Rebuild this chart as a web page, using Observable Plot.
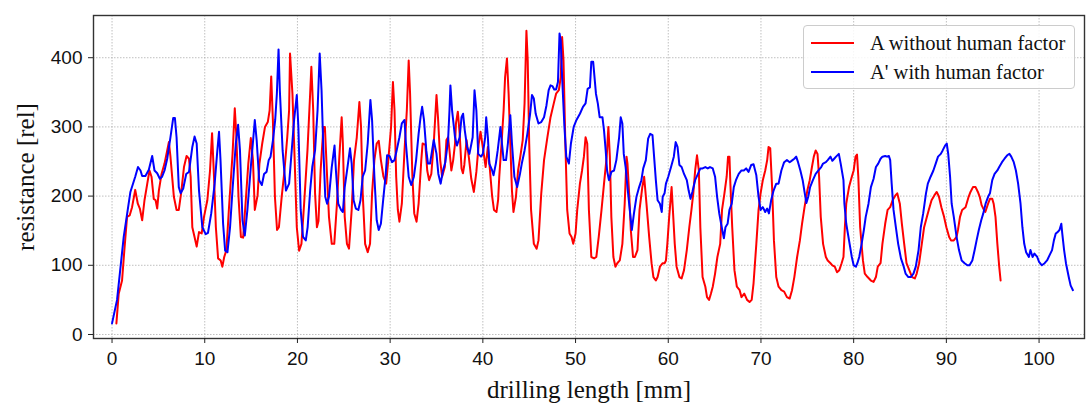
<!DOCTYPE html>
<html>
<head>
<meta charset="utf-8">
<script src="https://cdn.jsdelivr.net/npm/d3@7"></script>
<script src="https://cdn.jsdelivr.net/npm/@observablehq/plot@0.6"></script>
<style>
  html, body { margin: 0; padding: 0; background: #fff; }
  #wrap { position: relative; width: 1087px; height: 403px; }
  #legend { position: absolute; left: 803px; top: 25px; width: 272px; height: 64px;
    border: 1px solid #cccccc; border-radius: 4px; background: rgba(255,255,255,0.85); box-sizing: border-box; }
  .lg-line { position: absolute; left: 7px; width: 43px; height: 2px; }
  .lg-text { position: absolute; left: 66px; font-family: "Liberation Serif", "Times New Roman", serif;
    font-size: 20.5px; line-height: 20.5px; color: #111; white-space: nowrap; }
</style>
</head>
<body>
<div id="wrap"></div>
<script>
// Series A: without human factor (red)
const aMm = [0.47,0.72,1.08,1.33,1.62,1.9,2.16,2.5,2.78,3.0,3.25,3.5,3.8,4.04,4.26,4.5,4.7,4.87,5.05,5.34,5.66,5.95,6.13,6.3,6.67,6.96,7.2,7.47,7.76,8.04,8.3,8.48,8.66,8.9,9.13,9.38,9.67,9.92,10.28,10.57,10.79,11.0,11.2,11.44,11.72,11.9,12.1,12.34,12.6,13.0,13.24,13.4,13.64,13.9,14.14,14.4,14.7,14.97,15.2,15.4,15.7,15.9,16.2,16.5,16.8,17.0,17.17,17.35,17.57,17.8,18.0,18.3,18.6,18.9,19.1,19.2,19.46,19.7,19.93,20.18,20.43,20.72,21.08,21.37,21.5,21.7,21.9,22.1,22.27,22.5,22.8,22.96,23.2,23.4,23.7,23.97,24.26,24.5,24.77,24.9,25.1,25.34,25.56,25.85,26.1,26.4,26.68,26.86,27.04,27.3,27.58,27.83,28.05,28.3,28.55,28.77,29.0,29.28,29.57,29.8,30.1,30.3,30.47,30.65,30.83,31.0,31.26,31.55,31.8,32.0,32.15,32.4,32.6,32.85,33.07,33.36,33.5,33.8,34.0,34.2,34.44,34.7,35.0,35.16,35.4,35.6,35.9,36.07,36.25,36.4,36.6,36.8,37.0,37.1,37.3,37.5,37.7,37.85,38.0,38.24,38.5,38.75,39.03,39.3,39.55,39.75,40.0,40.3,40.54,40.75,41.0,41.2,41.47,41.65,41.77,42.06,42.24,42.4,42.6,42.78,42.96,43.14,43.3,43.57,43.8,44.04,44.3,44.5,44.7,44.84,45.0,45.2,45.5,45.8,46.0,46.3,46.6,46.96,47.3,47.65,47.9,48.2,48.4,48.55,48.7,48.9,49.1,49.35,49.57,49.75,50.0,50.18,50.47,50.7,50.9,51.08,51.26,51.44,51.7,52.0,52.24,52.5,52.8,53.07,53.36,53.54,53.7,53.86,54.08,54.3,54.5,54.77,55.05,55.3,55.5,55.6,55.8,55.96,56.2,56.4,56.68,56.9,57.2,57.4,57.65,57.94,58.2,58.4,58.66,58.85,59.1,59.4,59.6,59.75,59.9,60.1,60.36,60.5,60.7,60.9,61.2,61.44,61.7,62.0,62.27,62.5,62.7,62.9,63.1,63.3,63.46,63.7,64.0,64.18,64.4,64.6,64.8,65.05,65.3,65.6,65.8,66.06,66.3,66.45,66.6,66.7,66.9,67.14,67.4,67.7,67.9,68.2,68.5,68.77,69.0,69.2,69.5,69.74,69.96,70.2,70.46,70.67,70.82,71.0,71.2,71.4,71.65,71.9,72.2,72.5,72.8,73.1,73.35,73.6,73.9,74.2,74.43,74.7,75.0,75.26,75.5,75.7,75.9,76.1,76.27,76.45,76.7,77.0,77.2,77.5,77.7,77.96,78.2,78.45,78.7,78.9,79.05,79.2,79.5,79.8,80.0,80.2,80.36,80.5,80.7,81.0,81.2,81.5,81.86,82.15,82.4,82.6,82.9,83.1,83.4,83.66,83.94,84.2,84.5,84.7,84.98,85.2,85.45,85.7,86.0,86.3,86.6,86.8,87.06,87.35,87.6,87.9,88.1,88.4,88.7,88.96,89.2,89.46,89.75,90.0,90.3,90.5,90.8,91.1,91.25,91.47,91.7,92.07,92.4,92.6,92.87,93.15,93.4,93.6,93.8,94.05,94.2,94.5,94.7,94.95,95.1,95.3,95.5,95.7,95.85];
const aRes = [16,59,78,122,170,172,184,209,189,182,165,194,218,237,228,196,194,182,208,232,247,266,278,257,199,180,180,206,242,258,254,228,155,141,127,148,146,170,194,237,291,228,155,110,107,98,112,122,180,261,327,290,199,141,140,189,247,284,252,180,201,247,276,300,307,324,373,310,199,151,155,199,237,285,324,406,348,252,155,121,131,189,266,348,387,324,204,155,164,237,300,300,228,170,131,131,189,252,314,276,170,131,124,180,252,285,336,300,204,131,119,131,204,252,276,280,252,228,218,252,300,365,324,228,180,163,189,266,324,396,348,228,175,163,189,252,276,274,237,223,232,276,346,314,252,228,242,281,285,266,237,252,276,305,322,290,240,233,245,281,255,225,206,235,275,293,270,242,271,240,200,180,177,195,228,285,324,372,399,348,276,208,177,199,237,257,281,334,439,396,276,180,131,124,136,204,252,285,314,334,348,353,372,430,396,276,180,146,141,131,146,180,218,237,257,285,276,180,112,110,112,141,180,218,257,300,257,170,112,98,103,107,131,189,257,247,199,151,112,112,122,180,213,228,189,141,103,83,78,83,98,103,103,107,131,170,213,180,131,98,83,81,93,122,155,180,204,237,259,237,155,83,69,54,50,59,69,88,112,131,180,204,228,257,257,218,155,93,69,64,54,59,50,47,50,74,131,180,204,223,237,252,271,269,213,136,83,69,64,62,54,52,64,83,112,136,160,184,208,223,242,257,266,261,228,170,131,112,107,103,100,98,90,93,103,112,155,189,213,228,237,257,260,228,155,107,88,83,78,76,83,98,103,131,160,180,184,194,201,204,189,160,131,103,93,83,81,88,103,131,155,170,180,194,201,206,199,184,170,155,141,136,136,141,151,170,180,184,199,206,213,213,206,199,187,180,177,189,196,196,189,170,131,98,78];

// Series A': with human factor (blue)
const bMm = [0,0.54,1.26,1.98,2.5,2.8,3.07,3.25,3.6,3.97,4.33,4.58,4.87,5.16,5.4,5.66,5.95,6.3,6.6,6.78,6.96,7.2,7.4,7.68,8.0,8.3,8.66,8.9,9.13,9.38,9.74,10.1,10.35,10.7,11.07,11.36,11.54,11.7,11.98,12.2,12.45,12.73,12.99,13.35,13.6,13.8,14.07,14.32,14.6,14.97,15.22,15.4,15.6,15.87,16.16,16.4,16.67,16.9,17.1,17.36,17.6,17.78,17.96,18.1,18.4,18.76,19.1,19.3,19.64,19.93,20.1,20.35,20.6,20.9,21.1,21.37,21.6,21.9,22.17,22.4,22.6,22.8,23.0,23.2,23.4,23.7,24.0,24.15,24.4,24.7,24.9,25.1,25.4,25.67,25.85,26.06,26.3,26.57,26.8,27.04,27.3,27.58,27.87,28.05,28.3,28.55,28.77,29.0,29.28,29.5,29.67,29.93,30.2,30.47,30.7,31.0,31.26,31.55,31.7,32.0,32.27,32.56,32.8,33.07,33.28,33.45,33.65,33.9,34.08,34.3,34.5,34.7,35.0,35.2,35.45,35.7,35.95,36.25,36.4,36.5,36.68,37.0,37.2,37.5,37.7,37.87,38.05,38.3,38.55,38.77,38.9,39.1,39.3,39.5,39.8,40.0,40.25,40.36,40.54,40.7,41.0,41.15,41.4,41.6,41.9,42.06,42.24,42.5,42.7,42.96,43.14,43.4,43.7,44.0,44.2,44.5,44.8,45.1,45.3,45.5,45.7,46.0,46.3,46.6,46.86,47.1,47.3,47.5,47.7,47.9,48.1,48.27,48.4,48.55,48.8,49.0,49.28,49.5,49.8,50.1,50.47,50.8,51.08,51.3,51.55,51.7,51.9,52.2,52.4,52.6,52.9,53.07,53.25,53.4,53.6,53.86,54.15,54.4,54.7,54.87,55.05,55.2,55.4,55.6,55.85,56.07,56.3,56.57,56.86,57.1,57.3,57.58,57.83,58.05,58.3,58.5,58.66,58.85,59.1,59.3,59.4,59.6,59.75,60.0,60.3,60.6,60.8,61.0,61.2,61.44,61.7,62.0,62.2,62.4,62.6,62.9,63.2,63.46,63.7,64.0,64.26,64.5,64.8,65.05,65.27,65.5,65.77,66.0,66.17,66.4,66.6,66.85,67.07,67.3,67.6,67.9,68.15,68.4,68.66,68.95,69.2,69.5,69.74,69.96,70.2,70.46,70.67,70.86,71.1,71.36,71.65,71.9,72.2,72.5,72.8,73.1,73.4,73.6,73.8,74.0,74.25,74.5,74.7,74.9,75.1,75.3,75.6,75.9,76.2,76.5,76.7,77.0,77.2,77.5,77.7,77.9,78.1,78.4,78.6,78.9,79.0,79.2,79.5,79.8,80.0,80.25,80.4,80.6,80.86,81.1,81.3,81.6,81.86,82.15,82.4,82.65,82.9,83.1,83.4,83.6,83.8,83.94,84.1,84.3,84.55,84.8,85.1,85.4,85.6,85.9,86.16,86.45,86.7,87.0,87.24,87.5,87.8,88.0,88.3,88.6,88.85,89.1,89.4,89.6,89.86,90.04,90.2,90.4,90.57,90.8,91.1,91.36,91.65,91.97,92.26,92.5,92.8,93.05,93.26,93.5,93.76,93.98,94.23,94.5,94.7,94.95,95.2,95.5,95.7,96.0,96.27,96.56,96.8,97.0,97.27,97.5,97.74,98.0,98.2,98.4,98.6,98.9,99.07,99.3,99.5,99.8,100.0,100.3,100.6,100.86,101.15,101.4,101.6,101.8,102.0,102.2,102.4,102.5,102.7,102.9,103.2,103.4,103.65];
const bRes = [16,50,141,206,228,242,237,229,229,238,258,237,233,225,228,237,254,285,313,313,285,213,204,211,232,235,271,286,276,208,155,145,147,175,218,266,293,252,160,121,119,155,208,276,303,266,165,143,180,242,281,310,281,223,216,232,235,252,257,281,310,348,412,353,266,208,218,252,310,346,300,180,141,136,155,208,242,266,324,406,353,266,199,189,199,242,273,237,189,180,177,213,242,269,247,194,182,180,194,228,237,276,339,310,228,165,151,160,199,228,259,258,249,252,266,285,305,310,276,228,216,228,252,290,314,329,310,266,247,247,264,281,261,232,218,237,249,281,324,360,324,285,273,285,314,319,295,271,261,276,285,353,324,261,257,261,285,314,285,247,237,230,247,266,300,276,252,252,276,317,276,228,213,232,247,266,290,319,346,341,319,305,307,314,331,353,360,359,354,354,365,435,425,372,300,257,247,276,300,310,319,329,334,355,357,394,394,348,334,314,314,295,266,237,223,235,237,252,285,314,305,261,242,213,180,151,175,199,213,223,240,252,283,290,288,252,223,194,189,177,199,204,218,228,242,257,278,271,245,242,232,223,208,196,206,223,232,240,240,242,240,242,240,228,199,175,155,139,155,160,180,189,213,223,232,237,237,240,235,245,246,230,199,180,184,177,182,175,194,208,218,218,237,249,252,249,252,254,257,249,237,223,206,190,199,213,223,232,237,242,247,249,252,257,251,254,257,261,247,223,189,160,136,112,100,98,103,112,131,151,170,189,213,225,242,247,254,257,258,257,258,252,218,180,155,131,110,98,88,83,83,88,98,122,155,175,204,218,228,237,247,257,261,266,273,276,261,228,189,170,141,122,107,103,100,100,107,122,136,151,165,175,189,199,204,223,232,237,242,249,254,259,261,257,249,237,218,189,155,131,119,112,122,112,117,112,105,100,103,107,115,122,136,146,148,151,160,146,122,103,83,71,64];

const xTicks = [0,10,20,30,40,50,60,70,80,90,100];
const yTicks = [0,100,200,300,400];
const xLabel = "drilling length [mm]";
const yLabel = "resistance [rel]";
const seriesNames = ["A without human factor", "A' with human factor"];
const seriesColors = ["#ff0000", "#0000ff"];

const A = aMm.map((x, i) => ({x, y: aRes[i]}));
const B = bMm.map((x, i) => ({x, y: bRes[i]}));

const serif = "'Liberation Serif', 'Times New Roman', serif";

const chart = Plot.plot({
  width: 1087,
  height: 403,
  marginLeft: 93,
  marginRight: 3,
  marginTop: 15,
  marginBottom: 65,
  x: {domain: [-2, 104.9]},
  y: {domain: [-5.8, 461]},
  style: {fontFamily: "'Liberation Sans', Arial, sans-serif", fontSize: "19px", background: "white", color: "#111"},
  marks: [
    Plot.gridX(xTicks, {stroke: "#b0b0b0", strokeOpacity: 1, strokeWidth: 0.8, strokeDasharray: "1.5,1.5"}),
    Plot.gridY(yTicks, {stroke: "#b0b0b0", strokeOpacity: 1, strokeWidth: 0.8, strokeDasharray: "1.5,1.5"}),
    Plot.line(A, {x: "x", y: "y", stroke: seriesColors[0], strokeWidth: 2}),
    Plot.line(B, {x: "x", y: "y", stroke: seriesColors[1], strokeWidth: 2}),
    Plot.frame({stroke: "#333", strokeWidth: 1.4}),
    Plot.axisX(xTicks, {tickSize: 5, tickPadding: 8, label: null, fontSize: 19, stroke: "#222"}),
    Plot.axisY(yTicks, {tickSize: 5, tickPadding: 6, label: null, fontSize: 19, stroke: "#222"}),
    Plot.text([xLabel], {frameAnchor: "bottom", textAnchor: "middle", lineAnchor: "middle", dy: 51, fontFamily: serif, fontSize: 25, fill: "#111"}),
    Plot.text([yLabel], {frameAnchor: "left", textAnchor: "middle", lineAnchor: "middle", rotate: -90, dx: -68, fontFamily: serif, fontSize: 25, fill: "#111"})
  ]
});

const wrap = document.getElementById("wrap");
wrap.appendChild(chart);

const legend = document.createElement("div");
legend.id = "legend";
const rows = [{top: 16.7, ttop: 7.1}, {top: 45.7, ttop: 35.8}];
seriesNames.forEach((name, i) => {
  const ln = document.createElement("div");
  ln.className = "lg-line";
  ln.style.top = (rows[i].top - 1) + "px";
  ln.style.background = seriesColors[i];
  legend.appendChild(ln);
  const tx = document.createElement("div");
  tx.className = "lg-text";
  tx.style.top = rows[i].ttop + "px";
  tx.textContent = name;
  legend.appendChild(tx);
});
wrap.appendChild(legend);
</script>
</body>
</html>
